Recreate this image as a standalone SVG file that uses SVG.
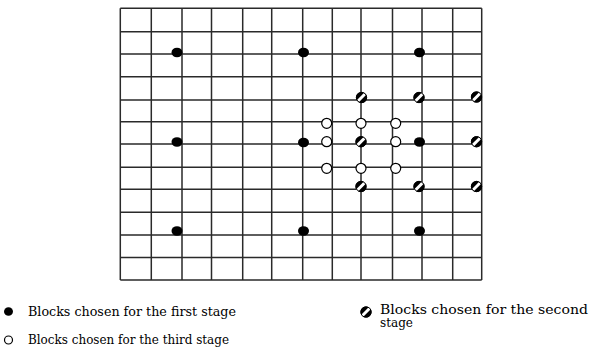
<svg xmlns="http://www.w3.org/2000/svg" width="594" height="358" viewBox="0 0 594 358">
<style>
.grid{fill:none;stroke:#2a2a2a;stroke-width:1.5}
.b{fill:#000}
.w{fill:#fff;stroke:#000;stroke-width:1.2}
.t{font-family:"DejaVu Serif","Liberation Serif",serif;font-size:12px;fill:#000}
</style>
<defs>
<clipPath id="cc"><circle cx="0" cy="0" r="5.5"/></clipPath>
<g id="hatch">
<circle cx="0" cy="0" r="5.5" fill="#000"/>
<line x1="-7" y1="7" x2="7" y2="-7" stroke="#fff" stroke-width="3" clip-path="url(#cc)"/>
<circle cx="0" cy="0" r="5.2" fill="none" stroke="#000" stroke-width="1"/>
</g>
</defs>
<rect x="0" y="0" width="594" height="358" fill="#fff"/>
<g id="grid" class="grid">
<path d="M120.3 8.3V280M151.3 8.3V280M182 8.3V280M211.5 8.3V280M242.7 8.3V280M271.7 8.3V280M302.7 8.3V280M332.3 8.3V280M361 8.3V280M392.5 8.3V280M422 8.3V280M452.7 8.3V280M481.7 8.3V280"/>
<path d="M120.3 8.3H481.7M120.3 31.7H481.7M120.3 54H481.7M120.3 76.7H481.7M120.3 100H481.7M120.3 121.7H481.7M120.3 144H481.7M120.3 167.3H481.7M120.3 189.3H481.7M120.3 212.3H481.7M120.3 235H481.7M120.3 257.5H481.7M120.3 280H481.7"/>
</g>
<g id="stage1">
<ellipse class="b" cx="177" cy="52.5" rx="5.5" ry="4.8"/>
<ellipse class="b" cx="303.5" cy="52.5" rx="5.5" ry="4.8"/>
<ellipse class="b" cx="419.5" cy="52.5" rx="5.5" ry="4.8"/>
<ellipse class="b" cx="177" cy="142" rx="5.5" ry="4.8"/>
<ellipse class="b" cx="303.5" cy="142.5" rx="5.5" ry="4.8"/>
<ellipse class="b" cx="419.5" cy="142" rx="5.5" ry="4.8"/>
<ellipse class="b" cx="177" cy="231" rx="5.5" ry="4.8"/>
<ellipse class="b" cx="303.5" cy="231" rx="5.5" ry="4.8"/>
<ellipse class="b" cx="419.5" cy="231" rx="5.5" ry="4.8"/>
</g>
<g id="stage3">
<circle class="w" cx="326.7" cy="123.3" r="5"/>
<circle class="w" cx="361" cy="123.3" r="5"/>
<circle class="w" cx="395.7" cy="123.3" r="5"/>
<circle class="w" cx="326.7" cy="141.7" r="5"/>
<circle class="w" cx="395.7" cy="141.7" r="5"/>
<circle class="w" cx="326.7" cy="168.3" r="5"/>
<circle class="w" cx="361" cy="168.3" r="5"/>
<circle class="w" cx="395.7" cy="168.3" r="5"/>
</g>
<g id="stage2">
<use href="#hatch" x="361.5" y="97.5"/>
<use href="#hatch" x="419" y="97.5"/>
<use href="#hatch" x="476.5" y="97"/>
<use href="#hatch" x="361" y="141.7"/>
<use href="#hatch" x="476.5" y="141.7"/>
<use href="#hatch" x="361" y="186.5"/>
<use href="#hatch" x="419" y="186.5"/>
<use href="#hatch" x="476.5" y="186.5"/>
</g>
<g id="legend1">
<ellipse class="b" cx="8.5" cy="311.5" rx="4.5" ry="4.3"/>
<text class="t" x="28" y="315.5" textLength="208" lengthAdjust="spacingAndGlyphs">Blocks chosen for the first stage</text>
</g>
<g id="legend2">
<use href="#hatch" x="366" y="312"/>
<text class="t" x="380" y="314" textLength="208" lengthAdjust="spacingAndGlyphs">Blocks chosen for the second</text>
<text class="t" x="380" y="327">stage</text>
</g>
<g id="legend3">
<circle class="w" cx="8.5" cy="340" r="4"/>
<text class="t" x="28" y="344" textLength="201" lengthAdjust="spacingAndGlyphs">Blocks chosen for the third stage</text>
</g>
</svg>
